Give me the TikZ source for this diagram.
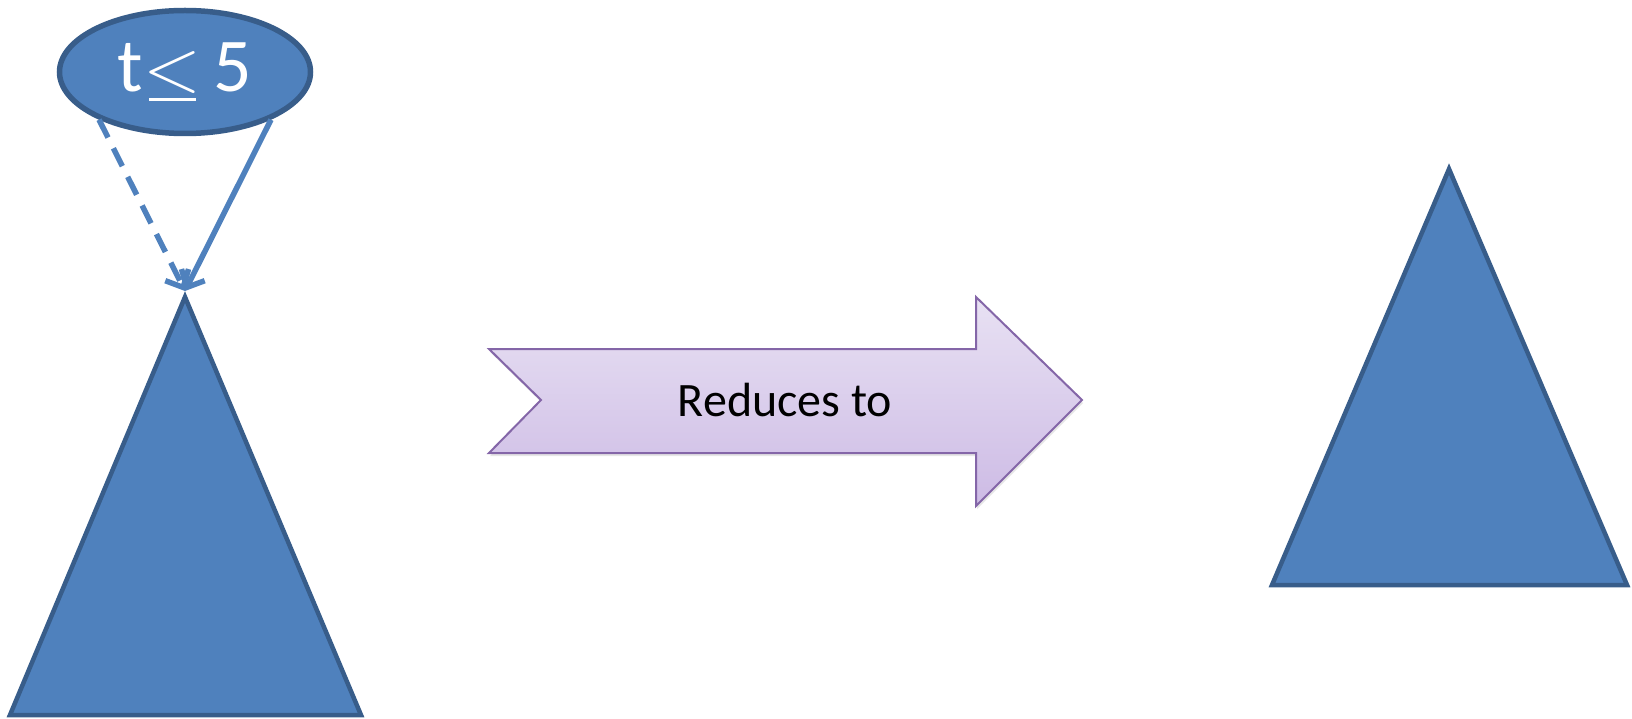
\documentclass[tikz,border=0pt]{standalone}
\usepackage{fontspec}
\setmainfont{Carlito}
\newfontfamily\lessfont{Latin Modern Roman}
\usetikzlibrary{shapes.geometric,arrows.meta,shadows}
\definecolor{treeblue}{HTML}{4F81BD}
\definecolor{treeline}{HTML}{385D8A}
\definecolor{lilactop}{HTML}{E8E1F3}
\definecolor{lilacbot}{HTML}{CDBBE5}
\definecolor{lilacline}{HTML}{8466A8}
\newcommand\ulsym[1]{\rlap{\kern.083em\rule[-9.5pt]{.61em}{3pt}}{#1}}
\tikzset{
  tree/.style={fill=treeblue, draw=treeline, line width=4.5pt},
  branch/.style={draw=treeblue, line width=5.5pt, -{Straight Barb[length=14pt,width=26pt]}},
}
\begin{document}
\begin{tikzpicture}[x=1pt,y=-1pt]
  \useasboundingbox (0,0) rectangle (1632,719);
  \node[ellipse, fill=treeblue, draw=treeline, line width=5.5pt, minimum width=251pt, minimum height=123pt,
    inner sep=0pt, text=white, font=\fontsize{76}{76}\selectfont] (cond) at (185,72) {t\ulsym{\lessfont<}\,5};
  \coordinate (lefttop) at (185,297);
  \coordinate (lefttip) at (185,291);
  \draw[tree] (lefttop)--(361,715)--(10,715)--cycle;
  \draw[tree] (1449,169)--(1627,585)--(1272,585)--cycle;
  \draw[branch, dash pattern=on 20pt off 12pt] (cond.209.5)--(lefttip);
  \draw[branch] (cond.331.5)--(lefttip);
  \path[draw=lilacline, line width=2pt, top color=lilactop, bottom color=lilacbot,
    drop shadow={opacity=.2, shadow xshift=1pt, shadow yshift=-3pt}]
    (489,349)--(976,349)--(976,297)--(1082,400)--(976,506)--(976,453)--(489,453)--(541,400)--cycle;
  \node[font=\fontsize{48}{48}\selectfont] (reduce) at (785,400) {Reduces to};
\end{tikzpicture}
\end{document}
